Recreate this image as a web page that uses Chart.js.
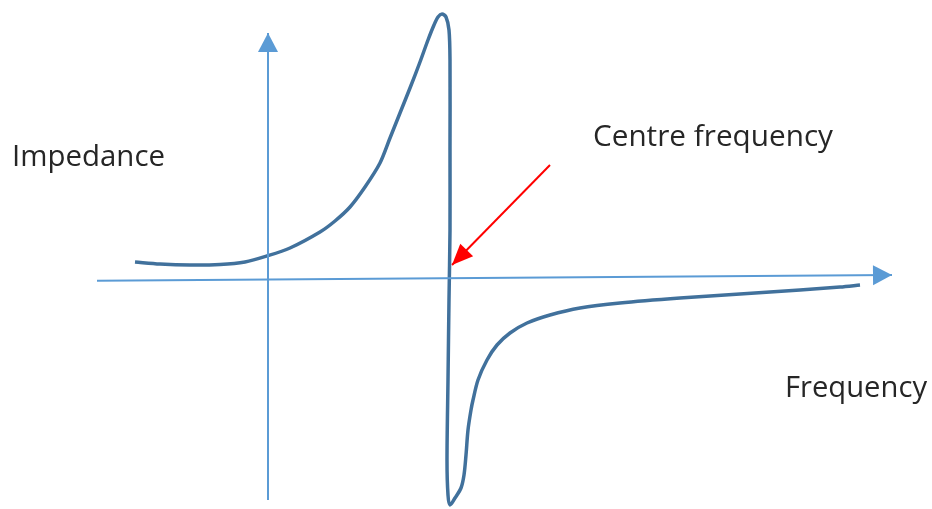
<!DOCTYPE html>
<html>
<head>
<meta charset="utf-8">
<script src="https://cdn.jsdelivr.net/npm/chart.js@4/dist/chart.umd.min.js"></script>
<style>
  html, body { margin: 0; padding: 0; background: #ffffff; }
  #wrap { width: 932px; height: 509px; }
</style>
</head>
<body>
<div id="wrap"><canvas id="c" width="932" height="509"></canvas></div>
<script>
// Resonance impedance curve: frequency offset vs. impedance (arbitrary units)
const frequency = [-133, -108, -78, -48, -23, -1, 22, 52, 67, 82, 97, 112, 122, 132, 142, 152, 160, 166, 170, 174, 178, 181, 182, 182, 182, 181, 180, 179, 180, 182, 187, 193, 196, 198, 200, 203, 205, 210, 219, 229, 242, 259, 282, 312, 352, 412, 472, 532, 572, 592];
const impedance = [18, 16, 15, 15.5, 18, 24, 32, 48, 59, 73, 93, 117, 142, 167, 192, 218, 240, 255, 263, 266, 263, 250, 220, 130, 50, -20, -100, -180, -215, -225, -218, -208, -195, -175, -150, -130, -120, -100, -80, -65, -53, -43, -35, -28, -23, -18, -14, -10, -7, -5];

// Axis lines (end points; the last point carries the arrow head)
const freqAxisX = [-171, 624];
const freqAxisY = [-0.7, 5];
const impAxisX = [0, 0];
const impAxisY = [-220, 247];

// Pointer to the centre frequency
const pointerX = [282, 184];
const pointerY = [115, 15];

const labels = ['Impedance', 'Centre frequency', 'Frequency'];

const pts = (xs, ys) => xs.map((x, i) => ({ x: x, y: ys[i] }));

// Draws filled arrow heads on datasets flagged with `arrow`, plus the text labels
const arrowPlugin = {
  id: 'arrows',
  afterDatasetsDraw(chart) {
    const ctx = chart.ctx;
    chart.data.datasets.forEach((ds, i) => {
      if (!ds.arrow) return;
      const meta = chart.getDatasetMeta(i);
      const n = meta.data.length;
      const a = meta.data[n - 2], b = meta.data[n - 1];
      const ang = Math.atan2(b.y - a.y, b.x - a.x);
      const L = ds.arrow.len, W = ds.arrow.half;
      ctx.save();
      ctx.translate(b.x, b.y);
      ctx.rotate(ang);
      ctx.beginPath();
      ctx.moveTo(0, 0);
      ctx.lineTo(-L, -W);
      ctx.lineTo(-L, W);
      ctx.closePath();
      ctx.fillStyle = ds.borderColor;
      ctx.fill();
      ctx.restore();
    });
    ctx.save();
    ctx.fillStyle = '#262626';
    ctx.font = '30px "Open Sans"';
    ctx.textBaseline = 'alphabetic';
    const place = [[12, 166, 153], [593, 146, 240], [785, 397, 142]];
    labels.forEach((t, i) => {
      const [x, y, w] = place[i];
      const m = ctx.measureText(t).width;
      ctx.save();
      ctx.translate(x, y);
      ctx.scale(w / m, 1);
      ctx.fillText(t, 0, 0);
      ctx.restore();
    });
    ctx.restore();
  }
};

new Chart(document.getElementById('c'), {
  type: 'scatter',
  data: {
    datasets: [
      {
        data: pts(freqAxisX, freqAxisY),
        showLine: true, borderColor: '#5B9BD5', borderWidth: 2,
        pointRadius: 0, arrow: { len: 19, half: 10 }
      },
      {
        data: pts(impAxisX, impAxisY),
        showLine: true, borderColor: '#5B9BD5', borderWidth: 2,
        pointRadius: 0, arrow: { len: 19, half: 10 }
      },
      {
        data: pts(frequency, impedance),
        showLine: true, borderColor: '#41719C', borderWidth: 3.5,
        tension: 0.3, pointRadius: 0
      },
      {
        data: pts(pointerX, pointerY),
        showLine: true, borderColor: '#FF0000', borderWidth: 2,
        pointRadius: 0, arrow: { len: 21, half: 9 }
      }
    ]
  },
  options: {
    responsive: false,
    animation: false,
    layout: { padding: 0 },
    plugins: { legend: { display: false }, tooltip: { enabled: false } },
    scales: {
      x: { type: 'linear', min: -268, max: 664, display: false },
      y: { type: 'linear', min: -229, max: 280, display: false }
    }
  },
  plugins: [arrowPlugin]
});
</script>
</body>
</html>
